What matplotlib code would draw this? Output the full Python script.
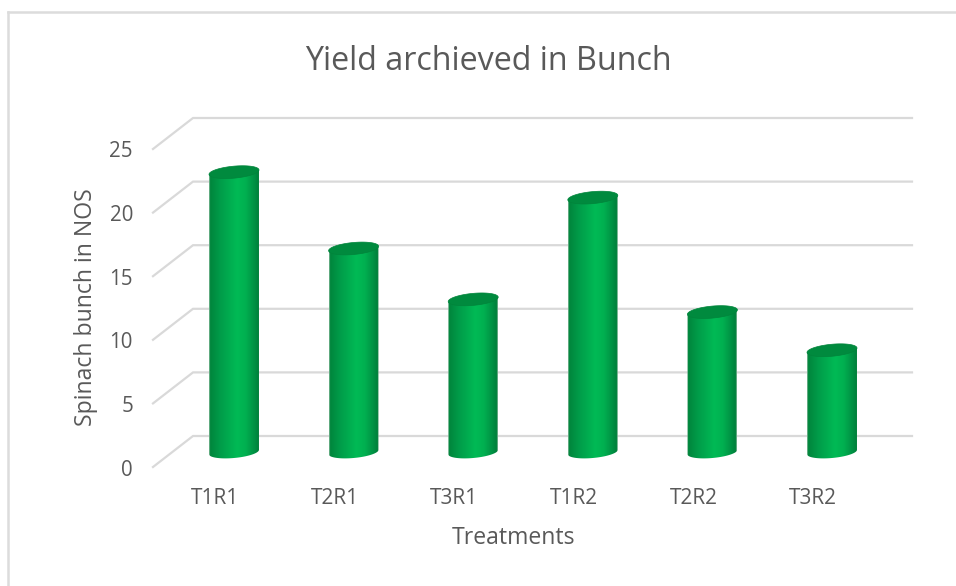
import numpy as np
import matplotlib
matplotlib.use("Agg")
import matplotlib.pyplot as plt
from matplotlib.colors import LinearSegmentedColormap
from matplotlib.patches import Polygon
from matplotlib.lines import Line2D

categories = ["T1R1", "T2R1", "T3R1", "T1R2", "T2R2", "T3R2"]
values = [22, 16, 12, 20, 11, 8]
y_ticks = [0, 5, 10, 15, 20, 25]
title = "Yield archieved in Bunch"
x_label = "Treatments"
y_label = "Spinach bunch in NOS"

W, H = 956, 586
PX = 119.6      # pixels per category
PY = 12.72      # pixels per value unit
X0, Y0 = 234.0, 452.0  # pixel of category 0, value 0
FONT = "Open Sans"
TXT = "#595959"
GRID = "#d9d9d9"

fig = plt.figure(figsize=(W / 100, H / 100), dpi=100, facecolor="white")
ax = fig.add_axes([0, 0, 1, 1])
ax.set_xlim(-X0 / PX, (W - X0) / PX)
ax.set_ylim((Y0 - H) / PY, Y0 / PY)
ax.axis("off")

# chart frame (figure-pixel coordinates)
fig.add_artist(Line2D([8 / W, 8 / W], [0, 1 - 12 / H], color="#dcdcdc", lw=1.8))
fig.add_artist(Line2D([8 / W, 1], [1 - 12 / H, 1 - 12 / H], color="#dcdcdc", lw=1.8))

# gridlines: floor/wall with depth offset
dx_back, dx_front = (193 - X0) / PX, (153 - X0) / PX
dx_end = (912 - X0) / PX
up_back, down_front = (Y0 - 436) / PY, (467 - Y0) / PY
for v in y_ticks:
    ax.plot([dx_front, dx_back, dx_end],
            [v - down_front, v + up_back, v + up_back],
            color=GRID, lw=1.6, solid_joinstyle="miter", zorder=1)
    ax.text(dx_front - 20 / PX, v - down_front - 3 / PY, str(v), ha="right", va="center",
            fontsize=14.8, color=TXT, family=FONT)

cmap = LinearSegmentedColormap.from_list("cyl", [
    (0.00, "#a8c8b4"), (0.02, "#00853c"), (0.22, "#009c49"),
    (0.55, "#00ba55"), (0.72, "#00b050"), (0.90, "#008f43"),
    (0.98, "#007f3a"), (1.00, "#a8c8b4")])
grad = np.linspace(0, 1, 256).reshape(1, -1)
hw, hh, shear = 25.0, 6.0, 2.2
t = np.linspace(0, 2 * np.pi, 121)
ex = hw * np.cos(t)
ey = hh * np.sin(t) + shear * np.cos(t)

for i, v in enumerate(values):
    # lower arc of the base + upper arc of the top bound the body
    lower = t[60:121]
    lx = hw * np.cos(lower)
    ly = hh * np.sin(lower) + shear * np.cos(lower)
    body_x = np.r_[i + lx / PX, i + hw / PX, i - hw / PX]
    body_y = np.r_[ly / PY, v + shear / PY, v - shear / PY]
    clip = Polygon(np.c_[body_x, body_y], closed=True, transform=ax.transData,
                   fc="none", ec="none")
    ax.add_patch(clip)
    im = ax.imshow(grad, cmap=cmap, aspect="auto", zorder=3, interpolation="bilinear",
                   extent=[i - hw / PX, i + hw / PX, -1, v + 1])
    im.set_clip_path(clip)
    ax.add_patch(Polygon(np.c_[i + ex / PX, v + ey / PY], closed=True, fc="#008a3e",
                         ec="#00843b", lw=0.5, zorder=4))
ax.set_xlim(-X0 / PX, (W - X0) / PX)
ax.set_ylim((Y0 - H) / PY, Y0 / PY)

for i, c in enumerate(categories):
    ax.text(i - 19 / PX, (Y0 - 499) / PY, c, ha="center", va="center", fontsize=15,
            color=TXT, family=FONT)

fig.text(488 / W, 1 - 61 / H, title, ha="center", va="center", fontsize=23.2,
         color=TXT, family=FONT)
fig.text(513 / W, 1 - 538 / H, x_label, ha="center", va="center", fontsize=16.6,
         color=TXT, family=FONT)
fig.text(86 / W, 1 - 307 / H, y_label, ha="center", va="center", rotation=90,
         fontsize=16.6, color=TXT, family=FONT)

fig.savefig("out.png", dpi=100)
